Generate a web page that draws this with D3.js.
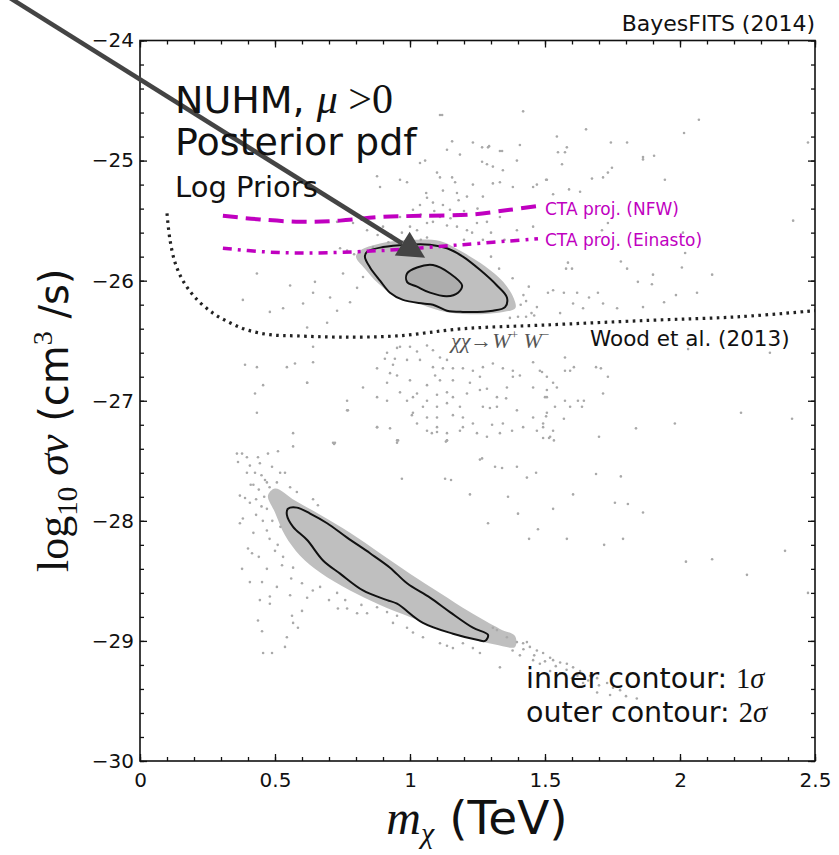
<!DOCTYPE html>
<meta charset="utf-8">
<html>
<head>
<style>
  html, body { margin: 0; padding: 0; background: #fff; }
  svg { display: block; font-family: "DejaVu Sans", sans-serif; }
  .tick text { font-family: "DejaVu Sans", sans-serif; font-size: 20px; fill: #111; }
  .serif { font-family: "Liberation Serif", "DejaVu Serif", serif; }
</style>
</head>
<body>
<svg width="839" height="855"></svg>
<script src="https://cdn.jsdelivr.net/npm/d3@7"></script>
<script>
// axis ticks
var xTicks = [0, 0.5, 1, 1.5, 2, 2.5],
    xTickLabels = ["0", "0.5", "1", "1.5", "2", "2.5"];
var yTicks = [-30, -29, -28, -27, -26, -25, -24];

// CTA projections and Wood et al. limit (m in TeV, log10 sigma v)
var ctaNFW = [[0.307,-25.46],[0.444,-25.49],[0.593,-25.51],[0.741,-25.50],[0.889,-25.47],[1.037,-25.46],[1.222,-25.45],[1.370,-25.41],[1.470,-25.38]];
var ctaEinasto = [[0.307,-25.73],[0.463,-25.76],[0.619,-25.77],[0.889,-25.75],[1.196,-25.70],[1.474,-25.65]];
var wood = [[0.100,-25.44],[0.111,-25.66],[0.130,-25.85],[0.159,-26.00],[0.204,-26.14],[0.270,-26.27],[0.333,-26.35],[0.396,-26.41],[0.481,-26.45],[0.581,-26.46],[0.741,-26.47],[0.952,-26.46],[1.196,-26.40],[1.493,-26.37],[1.889,-26.33],[2.222,-26.30],[2.500,-26.25]];

// credible region contours
var upperOuter = [[0.841,-25.76],[0.900,-25.72],[0.989,-25.70],[1.074,-25.70],[1.137,-25.73],[1.196,-25.80],[1.259,-25.91],[1.322,-26.04],[1.359,-26.14],[1.352,-26.22],[1.307,-26.25],[1.196,-26.26],[1.137,-26.25],[1.085,-26.20],[1.048,-26.19],[0.974,-26.16],[0.926,-26.10],[0.889,-26.00],[0.852,-25.89],[0.833,-25.80]];
var upperInner = [[0.989,-25.94],[1.026,-25.89],[1.085,-25.87],[1.148,-25.94],[1.193,-26.04],[1.178,-26.10],[1.137,-26.13],[1.074,-26.10],[1.026,-26.05],[0.989,-26.01]];
var lowerOuter = [[0.548,-27.90],[0.581,-27.89],[0.630,-27.94],[0.693,-28.02],[0.767,-28.14],[0.852,-28.27],[0.926,-28.39],[0.989,-28.52],[1.074,-28.64],[1.148,-28.76],[1.233,-28.89],[1.289,-28.95],[1.278,-29.00],[1.248,-28.99],[1.159,-28.94],[1.048,-28.85],[0.952,-28.69],[0.915,-28.66],[0.826,-28.58],[0.741,-28.44],[0.678,-28.33],[0.619,-28.16],[0.567,-28.05],[0.544,-27.95]];

// densest parts of the sample clouds
var upperDense = [[0.815,-25.75],[0.889,-25.69],[1.000,-25.66],[1.111,-25.67],[1.193,-25.76],[1.278,-25.88],[1.345,-26.01],[1.385,-26.15],[1.390,-26.23],[1.345,-26.26],[1.222,-26.28],[1.111,-26.25],[1.019,-26.18],[0.944,-26.13],[0.881,-26.02],[0.833,-25.90],[0.800,-25.80]];
var lowerDense = [[0.500,-27.73],[0.574,-27.83],[0.667,-27.95],[0.778,-28.10],[0.889,-28.27],[1.000,-28.44],[1.111,-28.60],[1.222,-28.76],[1.333,-28.90],[1.389,-28.96],[1.389,-29.05],[1.315,-29.03],[1.222,-28.98],[1.111,-28.90],[1.000,-28.80],[0.889,-28.70],[0.778,-28.58],[0.667,-28.43],[0.593,-28.29],[0.537,-28.12],[0.500,-27.93],[0.474,-27.79]];

// scattered posterior samples
var samplesUpper = [[1.111,-24.62],[1.419,-24.59],[1.156,-24.84],[1.233,-24.85],[1.267,-24.89],[1.289,-24.89],[1.333,-24.92],[1.137,-24.91],[1.185,-24.95],[1.056,-25.00],[1.037,-25.02],[1.267,-25.01],[1.285,-25.03],[1.307,-25.05],[1.344,-25.08],[1.396,-25.00],[1.100,-25.10],[1.111,-25.14],[1.156,-25.14],[1.167,-25.18],[0.989,-25.18],[0.963,-25.16],[0.878,-25.13],[0.889,-25.22],[1.233,-25.20],[1.307,-25.19],[1.333,-25.18],[1.381,-25.22],[1.456,-25.22],[1.507,-25.16],[1.122,-25.25],[1.174,-25.27],[1.211,-25.30],[1.270,-25.30],[1.063,-25.31],[1.085,-25.35],[1.037,-25.37],[1.011,-25.41],[1.122,-25.37],[1.148,-25.41],[1.174,-25.45],[1.111,-25.47],[1.085,-25.51],[1.063,-25.52],[1.137,-25.54],[1.174,-25.55],[1.211,-25.58],[1.248,-25.52],[1.285,-25.51],[1.333,-25.47],[1.396,-25.58],[1.456,-25.55],[1.026,-25.58],[1.063,-25.64],[0.963,-25.47],[0.900,-25.55],[0.841,-25.58],[0.863,-25.72],[1.011,-25.72],[0.789,-25.52],[0.730,-25.51],
  [1.119,-24.62],[2.070,-24.66],[2.015,-24.77],[1.652,-24.74],[1.544,-24.80],[1.581,-24.89],[1.548,-24.93],[1.744,-24.85],[1.804,-24.85],[1.863,-24.97],[1.904,-24.96],[1.863,-24.99],[1.407,-24.87],[1.341,-24.92],[1.293,-24.88],[1.563,-25.03],[1.574,-24.93],[1.748,-25.06],[1.733,-25.10],[1.715,-25.14],[1.674,-25.15],[1.944,-25.16],[1.504,-25.16],[1.470,-25.20],[1.589,-25.24],[1.630,-25.26],[1.530,-25.28],[2.474,-24.85],[2.419,-25.50],[1.733,-25.52],[1.711,-25.58],[2.011,-25.60],[2.019,-25.77],[1.781,-25.84],[1.804,-25.90],[2.007,-25.89],[1.585,-25.85],[1.578,-25.90],[1.600,-25.90],[2.119,-25.95],[1.900,-25.95],[1.896,-26.03],[1.844,-26.01],[2.063,-26.10],[1.985,-26.12],[1.941,-26.18],[1.696,-26.10],[1.663,-26.14],[1.619,-26.10],[1.570,-26.10],[1.530,-26.08],[1.511,-26.10],[1.715,-26.19],[1.767,-26.23],[1.863,-26.22],[1.604,-26.19],[1.641,-26.23],[1.556,-26.27],
  [0.381,-26.16],[0.433,-25.94],[0.481,-26.26],[0.556,-26.04],[0.530,-26.23],[0.604,-26.19],[0.648,-26.01],[0.641,-26.10],[0.704,-26.14],[0.693,-26.35],[0.619,-26.39],[0.730,-26.25],[0.778,-26.18],[0.752,-25.94],[0.804,-26.06],[0.826,-25.97],[0.741,-25.73],[0.767,-25.75],[0.793,-25.78],
  [1.430,-26.30],[1.450,-26.27],[1.470,-26.22],[1.400,-26.30],[1.420,-26.12],[1.440,-26.05],[1.380,-25.98],[1.330,-25.90],[1.300,-25.80],[0.950,-25.66],[0.920,-25.68],[1.040,-25.66],[1.410,-26.20],[1.430,-26.17],[1.460,-26.29],[1.370,-26.31],
  [1.000,-25.55],[1.040,-25.45],[1.090,-25.42],[1.150,-25.48],[1.200,-25.42],[1.230,-25.60],[1.270,-25.66],[1.300,-25.60],[1.350,-25.66],[1.200,-25.66],[0.970,-25.60],[0.930,-25.62],[0.880,-25.62],[1.060,-25.27],[1.180,-25.33],[1.250,-25.40]];
var samplesMiddle = [[0.433,-26.72],[0.389,-26.70],[0.544,-26.72],[0.574,-26.69],[0.619,-26.85],[0.456,-26.87],[0.426,-26.94],[0.433,-27.10],[0.770,-27.08],[0.878,-27.22],[0.715,-27.35],[0.567,-27.27],[0.952,-27.33],[1.011,-27.10],[1.026,-26.94],[1.100,-27.22],[1.081,-27.27],[1.137,-27.33],[1.196,-27.22],[1.267,-27.48],
  [0.641,-26.55],[0.963,-26.55],[0.915,-26.60],[0.952,-26.56],[1.000,-26.55],[1.026,-26.59],[1.063,-26.54],[1.085,-26.58],[1.111,-26.64],[1.137,-26.66],[1.037,-26.66],[0.989,-26.66],[0.944,-26.65],[0.907,-26.65],[0.641,-26.68],[0.878,-26.73],[0.937,-26.70],[0.926,-26.77],[0.952,-26.79],[1.085,-26.72],[1.122,-26.73],[1.159,-26.73],[1.196,-26.73],[1.233,-26.75],[1.270,-26.72],[1.307,-26.69],[1.344,-26.73],[1.381,-26.75],[1.456,-26.68],[1.481,-26.75],[1.507,-26.80],[1.530,-26.85],[1.381,-26.80],[1.407,-26.79],[1.259,-26.80],[1.222,-26.85],[1.159,-26.83],[1.111,-26.83],[1.093,-26.79],[1.063,-26.87],[1.000,-26.83],[0.619,-26.85],[0.826,-26.89],[0.915,-26.85],[0.963,-26.93],[1.011,-26.97],[1.063,-27.00],[0.989,-27.00],[1.100,-26.95],[1.137,-26.93],[1.159,-26.97],[1.211,-26.94],[1.259,-26.91],[1.285,-26.90],[1.359,-26.89],[1.322,-26.97],[1.356,-26.98],[1.456,-26.89],[1.507,-26.97],[1.544,-26.89],[0.878,-26.97],[0.767,-27.00],[0.767,-27.08],[0.915,-27.00],[1.048,-27.05],[1.100,-27.05],[1.137,-27.02],[1.185,-27.05],[1.270,-27.05],[1.296,-27.06],[1.322,-27.05],[1.396,-27.08],[1.456,-27.14],[1.507,-27.10],[1.007,-27.12],[1.063,-27.14],[1.100,-27.14],[1.159,-27.12],[1.196,-27.14],[1.233,-27.19],[1.304,-27.20],[1.344,-27.19],[1.378,-27.25],[1.419,-27.22],[1.470,-27.25],[1.519,-27.30],[0.878,-27.22],[0.926,-27.23],[1.026,-27.19],[1.063,-27.25],[1.100,-27.26],[1.137,-27.27],[1.185,-27.25],[1.248,-27.27],[1.285,-27.30],[1.333,-27.27],[0.952,-27.35],[0.722,-27.35],[1.137,-27.33],[1.259,-27.49],
  [1.574,-26.64],[1.607,-26.72],[1.689,-26.72],[1.707,-26.73],[1.733,-26.80],[1.574,-26.75],[1.593,-26.75],[1.489,-26.76],[1.507,-26.91],[1.500,-26.97],[1.715,-26.94],[1.574,-27.00],[1.622,-27.00],[1.644,-27.00],[1.593,-27.05],[1.637,-27.05],[1.537,-27.05],[1.504,-27.13],[1.570,-27.15],[1.493,-27.19],[1.493,-27.22],[1.530,-27.25],[1.493,-27.31],[1.515,-27.31],[1.533,-27.33],[1.700,-27.30],[1.837,-27.23],[1.981,-27.19],[2.226,-27.10],[2.415,-27.15],[2.333,-26.60],[2.030,-26.57],[1.689,-27.61],[1.781,-27.63],[1.604,-27.78],[1.530,-27.90],[1.759,-27.85],[1.807,-27.86],[1.863,-27.93],[1.581,-28.15],[1.719,-28.20],[1.789,-28.15],[2.022,-28.34],[2.119,-28.32],[2.248,-28.45],[2.389,-28.25],[2.474,-28.60],
  [0.567,-27.38],[0.719,-27.36],[0.956,-27.33],[1.133,-27.34],[1.315,-27.55],[1.341,-27.56],[1.396,-27.55],[1.433,-27.64],[1.467,-27.60],[0.970,-27.65],[1.130,-27.65],[1.152,-27.66],[1.222,-27.78],[1.363,-27.80],[1.400,-27.94],[1.289,-28.02],[1.474,-28.07],[1.441,-28.15]];
var samplesLower = [[0.359,-27.44],[0.378,-27.44],[0.474,-27.44],[0.511,-27.42],[0.396,-27.47],[0.437,-27.47],[0.363,-27.51],[0.407,-27.54],[0.444,-27.52],[0.489,-27.55],[0.396,-27.60],[0.426,-27.60],[0.519,-27.60],[0.537,-27.60],[0.463,-27.66],[0.507,-27.68],[0.556,-27.72],[0.581,-27.76],[0.370,-27.79],[0.389,-27.81],[0.407,-27.85],[0.381,-27.98],[0.370,-28.02],[0.641,-27.82],[0.659,-27.87],[0.400,-28.23],[0.415,-28.27],[0.378,-28.40],[0.407,-28.51],[0.452,-28.51],[0.444,-28.66],[0.481,-28.63],[0.481,-28.69],[0.437,-28.83],[0.452,-28.92],[0.563,-28.79],[0.600,-28.75],[0.567,-28.85],[0.585,-28.89],[0.544,-28.97],[0.456,-29.10],[0.489,-29.10],[0.537,-29.05],[0.526,-28.37],[0.567,-28.39],[0.507,-28.55],[0.556,-28.62],[0.619,-28.64],[0.667,-28.55],[0.730,-28.60],[0.733,-28.73],[0.767,-28.73],[0.804,-28.77],[0.841,-28.77],[0.878,-28.72],[0.915,-28.76],[0.952,-28.79],
  [0.420,-27.70],[0.430,-27.82],[0.470,-27.90],[0.455,-28.00],[0.420,-28.10],[0.480,-28.15],[0.500,-28.25],[0.440,-28.30],[0.470,-28.40],[0.530,-28.30],[0.560,-28.48],[0.600,-28.52],[0.640,-28.58],[0.700,-28.66],[0.760,-28.66],[0.820,-28.70],
  [0.450,-27.62],[0.470,-27.68],[0.440,-27.74],[0.460,-27.80],[0.480,-27.72],[0.410,-27.70],[0.450,-27.88],[0.490,-28.00],[0.470,-28.08],[0.430,-27.95],[0.510,-28.20],[0.520,-28.05],
  [1.307,-28.89],[1.322,-28.91],[1.359,-28.97],[1.396,-29.01],[1.419,-29.02],[1.433,-29.01],[1.444,-29.05],[1.470,-29.08],[1.493,-29.10],[1.519,-29.14],[1.530,-29.16],[1.556,-29.18],[1.581,-29.19],[1.604,-29.22],[1.630,-29.25],[1.667,-29.29],[1.693,-29.31],[1.730,-29.35],[1.752,-29.39],[1.778,-29.41],[1.741,-29.45],[1.693,-29.43],[1.641,-29.35],[1.600,-29.31],[1.556,-29.27],[1.519,-29.25],[1.481,-29.19],[1.456,-29.16],[1.407,-29.12],[1.333,-29.22],[1.259,-29.10],[1.233,-29.06],[1.196,-29.02],[1.159,-29.06],[1.137,-29.04],[1.111,-29.02],[1.048,-28.97],[1.011,-28.93],[0.989,-28.89],[0.937,-28.85],
  [1.380,-29.08],[1.420,-29.07],[1.460,-29.12],[1.500,-29.17],[1.540,-29.21],[1.580,-29.24],[1.620,-29.29],[1.660,-29.33],[1.700,-29.37],[1.800,-29.46],[1.840,-29.48]];

// arrow annotation: tail outside the frame, head on the 1 sigma region
var arrowFrom = [-0.50, -23.62], arrowTo = [1.056, -25.81];

var svg = d3.select("svg");
var margin = {left: 140, top: 40.5, right: 815, bottom: 761};

var x = d3.scaleLinear().domain([0, 2.5]).range([margin.left, margin.right]);
var y = d3.scaleLinear().domain([-30, -24]).range([margin.bottom, margin.top]);

var smooth = d3.line()
    .x(function (d) { return x(d[0]); })
    .y(function (d) { return y(d[1]); })
    .curve(d3.curveCatmullRom);
// (window.closed is reserved, so the ring generator gets another name)
var ring = d3.line()
    .x(function (d) { return x(d[0]); })
    .y(function (d) { return y(d[1]); })
    .curve(d3.curveCatmullRomClosed);

svg.append("rect").attr("width", 839).attr("height", 855).attr("fill", "#fff");

svg.append("clipPath").attr("id", "plot")
  .append("rect")
    .attr("x", margin.left).attr("y", margin.top)
    .attr("width", margin.right - margin.left).attr("height", margin.bottom - margin.top);

var g = svg.append("g").attr("clip-path", "url(#plot)");

// dense clouds
g.selectAll("path.dense")
    .data([upperDense, lowerDense])
    .enter().append("path")
    .attr("class", "dense")
    .attr("d", ring)
    .attr("fill", "#bfbfbf");

// samples
g.selectAll("circle")
    .data(samplesUpper.concat(samplesMiddle, samplesLower))
    .enter().append("circle")
    .attr("cx", function (d) { return x(d[0]); })
    .attr("cy", function (d) { return y(d[1]); })
    .attr("r", 1.3)
    .attr("fill", "#a9a9a9");

// contours
g.append("path").attr("d", ring(upperInner))
    .attr("fill", "#adadad").attr("stroke", "none");
g.selectAll("path.contour")
    .data([upperOuter, upperInner, lowerOuter])
    .enter().append("path")
    .attr("class", "contour")
    .attr("d", ring)
    .attr("fill", "none")
    .attr("stroke", "#111")
    .attr("stroke-width", 2);

// limits
g.append("path").attr("d", smooth(wood))
    .attr("fill", "none").attr("stroke", "#222").attr("stroke-width", 3.2)
    .attr("stroke-dasharray", "2.6,4.4");
g.append("path").attr("d", smooth(ctaNFW))
    .attr("fill", "none").attr("stroke", "#c000c0").attr("stroke-width", 4)
    .attr("stroke-dasharray", "15,8");
g.append("path").attr("d", smooth(ctaEinasto))
    .attr("fill", "none").attr("stroke", "#c000c0").attr("stroke-width", 3.5)
    .attr("stroke-dasharray", "9,6,3,6");

// axes, ticks pointing inward on all four sides
var xMinor = d3.range(0, 2.501, 0.1), yMinor = d3.range(-30, -23.99, 0.2);

function axisPair(axis, scale, major, minor, labels, fmt, pad) {
  var a = axis(scale).tickValues(major).tickSizeInner(-7).tickSizeOuter(0).tickPadding(pad)
      .tickFormat(labels ? fmt : "");
  var b = axis(scale).tickValues(minor).tickSizeInner(-4).tickSizeOuter(0).tickFormat("");
  return [a, b];
}

var xFmt = function (d) { return xTickLabels[xTicks.indexOf(d)]; };
var yFmt = function (d) { return "\u2212" + Math.abs(d); };

[[d3.axisBottom, "translate(0," + margin.bottom + ")", x, xTicks, xMinor, true, xFmt, 12],
 [d3.axisTop, "translate(0," + margin.top + ")", x, xTicks, xMinor, false, xFmt, 5],
 [d3.axisLeft, "translate(" + margin.left + ",0)", y, yTicks, yMinor, true, yFmt, 6],
 [d3.axisRight, "translate(" + margin.right + ",0)", y, yTicks, yMinor, false, yFmt, 5]
].forEach(function (s) {
  var pair = axisPair(s[0], s[2], s[3], s[4], s[5], s[6], s[7]);
  pair.forEach(function (ax) {
    var ga = svg.append("g").attr("transform", s[1]).call(ax);
    ga.select(".domain").remove();
    ga.selectAll("line").attr("stroke", "#111").attr("stroke-width", 1.3);
  });
});

svg.append("rect")
    .attr("x", margin.left).attr("y", margin.top)
    .attr("width", margin.right - margin.left).attr("height", margin.bottom - margin.top)
    .attr("fill", "none").attr("stroke", "#111").attr("stroke-width", 1.6);

// arrow
var ax0 = x(arrowFrom[0]), ay0 = y(arrowFrom[1]), ax1 = x(arrowTo[0]), ay1 = y(arrowTo[1]);
var ang = Math.atan2(ay1 - ay0, ax1 - ax0), headL = 27, headW = 14;
var bx = ax1 - headL * Math.cos(ang), by = ay1 - headL * Math.sin(ang);
svg.append("line")
    .attr("x1", ax0).attr("y1", ay0).attr("x2", bx).attr("y2", by)
    .attr("stroke", "#444").attr("stroke-width", 4.5);
svg.append("path")
    .attr("d", "M" + ax1 + "," + ay1 +
      "L" + (bx + headW * Math.sin(ang)) + "," + (by - headW * Math.cos(ang)) +
      "L" + (bx - headW * Math.sin(ang)) + "," + (by + headW * Math.cos(ang)) + "Z")
    .attr("fill", "#444");

// text
svg.append("text").attr("x", 815).attr("y", 31).attr("text-anchor", "end")
    .attr("font-size", 22).attr("fill", "#111").text("BayesFITS (2014)");

var t1 = svg.append("text").attr("x", 175).attr("y", 113).attr("font-size", 38).attr("fill", "#111");
t1.append("tspan").text("NUHM, ");
t1.append("tspan").attr("class", "serif").attr("font-style", "italic").attr("font-size", 42).text("\u03bc");
t1.append("tspan").attr("class", "serif").attr("font-size", 42).text(" >0");
svg.append("text").attr("x", 175).attr("y", 155).attr("font-size", 38).attr("fill", "#111").text("Posterior pdf");
svg.append("text").attr("x", 175).attr("y", 197).attr("font-size", 29).attr("fill", "#111").text("Log Priors");

svg.append("text").attr("x", 545).attr("y", 215).attr("font-size", 17).attr("fill", "#c000c0").text("CTA proj. (NFW)");
svg.append("text").attr("x", 545).attr("y", 246).attr("font-size", 17).attr("fill", "#c000c0").text("CTA proj. (Einasto)");
svg.append("text").attr("x", 590).attr("y", 346).attr("font-size", 21.5).attr("fill", "#111").text("Wood et al. (2013)");

var t2 = svg.append("text").attr("class", "serif").attr("x", 451).attr("y", 348)
    .attr("font-size", 22).attr("fill", "#555");
t2.append("tspan").attr("font-style", "italic").text("\u03c7\u03c7");
t2.append("tspan").text("\u2192");
t2.append("tspan").attr("font-style", "italic").text("W");
t2.append("tspan").attr("font-size", 13).attr("dy", -9).text("+");
t2.append("tspan").attr("font-style", "italic").attr("dy", 9).text(" W");
t2.append("tspan").attr("font-size", 13).attr("dy", -9).text("\u2212");

var t3 = svg.append("text").attr("x", 526).attr("y", 688).attr("font-size", 28.5).attr("fill", "#111");
t3.append("tspan").text("inner contour: ");
t3.append("tspan").attr("class", "serif").text("1");
t3.append("tspan").attr("class", "serif").attr("font-style", "italic").text("\u03c3");
var t4 = svg.append("text").attr("x", 526).attr("y", 722).attr("font-size", 28.5).attr("fill", "#111");
t4.append("tspan").text("outer contour: ");
t4.append("tspan").attr("class", "serif").text("2");
t4.append("tspan").attr("class", "serif").attr("font-style", "italic").text("\u03c3");

// axis titles
var xl = svg.append("text").attr("x", 477).attr("y", 834).attr("text-anchor", "middle")
    .attr("font-size", 47).attr("fill", "#111");
xl.append("tspan").attr("class", "serif").attr("font-style", "italic").attr("font-size", 48).text("m");
xl.append("tspan").attr("class", "serif").attr("font-style", "italic").attr("font-size", 30).attr("dy", 9).text("\u03c7");
xl.append("tspan").attr("dy", -9).text(" (TeV)");

var yl = svg.append("text").attr("transform", "translate(68,572) rotate(-90)")
    .attr("font-size", 40).attr("fill", "#111");
yl.append("tspan").attr("class", "serif").attr("font-size", 44).text("log");
yl.append("tspan").attr("class", "serif").attr("font-size", 29).attr("dy", 9).text("10");
yl.append("tspan").attr("class", "serif").attr("font-style", "italic").attr("font-size", 44).attr("dy", -9).text(" \u03c3v");
yl.append("tspan").text(" (cm");
yl.append("tspan").attr("class", "serif").attr("font-size", 28).attr("dy", -16).text("3");
yl.append("tspan").attr("dy", 16).text(" /s)");
</script>
</body>
</html>
